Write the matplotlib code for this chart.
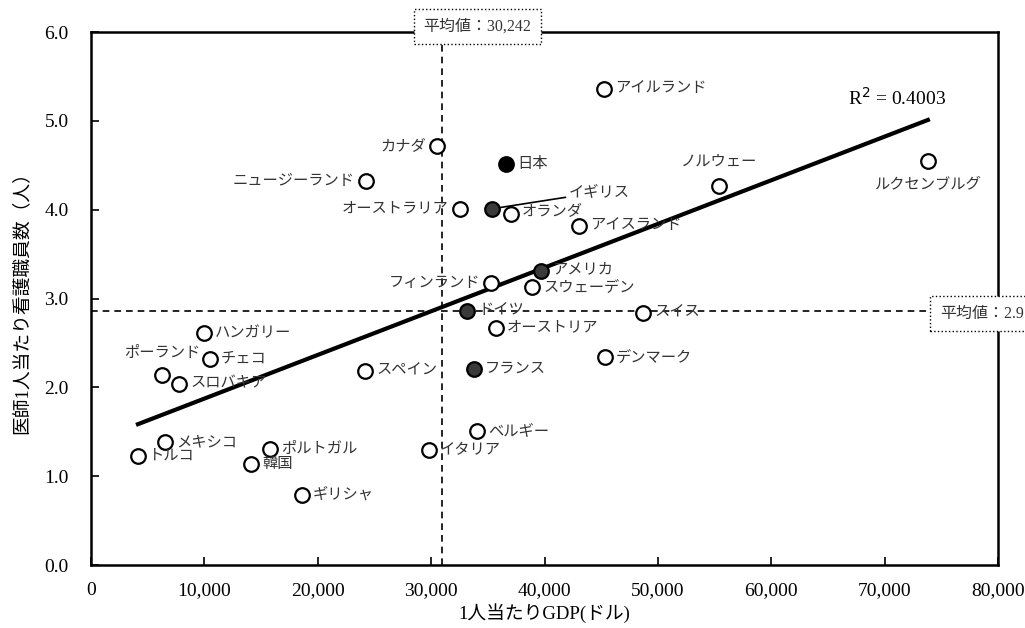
import numpy as np
import matplotlib
matplotlib.use("Agg")
import matplotlib.pyplot as plt

plt.rcParams['font.family'] = ['Liberation Serif', 'Noto Sans CJK JP', 'DejaVu Sans']

countries = ["アイルランド", "カナダ", "日本", "ニュージーランド", "オーストラリア", "イギリス",
             "オランダ", "ノルウェー", "ルクセンブルグ", "アイスランド", "アメリカ", "フィンランド",
             "スウェーデン", "ドイツ", "スイス", "オーストリア", "デンマーク", "フランス", "スペイン",
             "ベルギー", "イタリア", "ハンガリー", "チェコ", "ポーランド", "スロバキア", "メキシコ",
             "トルコ", "ポルトガル", "韓国", "ギリシャ"]
gdp = [45240, 30510, 36600, 24250, 32540, 35360,
       37040, 55380, 73810, 43030, 39680, 35270,
       38890, 33160, 48680, 35710, 45330, 33770, 24160,
       34040, 29810, 9960, 10490, 6260, 7760, 6530,
       4140, 15790, 14110, 18610]
nurses = [5.36, 4.72, 4.51, 4.32, 4.01, 4.01,
          3.95, 4.27, 4.55, 3.82, 3.31, 3.17,
          3.13, 2.86, 2.84, 2.67, 2.34, 2.21, 2.18,
          1.51, 1.29, 2.61, 2.32, 2.14, 2.04, 1.38,
          1.23, 1.31, 1.14, 0.79]
highlight = {"日本": "#000000", "イギリス": "#3a3a3a", "アメリカ": "#3a3a3a",
             "ドイツ": "#3a3a3a", "フランス": "#3a3a3a"}
mean_gdp_label = "平均値：30,242"
mean_gdp_line = 31000
mean_nurse_label = "平均値：2.91"
mean_nurse_line = 2.86
r2_label = "R$^2$ = 0.4003"

# label placement: (dx, dy, ha) in points
offsets = {"カナダ": (-8, 0, "right"), "ニュージーランド": (-8, 0, "right"),
           "オーストラリア": (-8, 0, "right"), "フィンランド": (-8, 0, "right"),
           "ノルウェー": (0, 17, "center"), "ルクセンブルグ": (0, -17, "center"),
           "ポーランド": (0, 16, "center"), "イギリス": (55, 12, "left"),
           "オランダ": (8, 2, "left"), "アメリカ": (8, 1, "left")}

fig = plt.figure(figsize=(10.25, 6.28), dpi=100)
ax = fig.add_axes([0.0888, 0.1003, 0.8849, 0.8487])

for c, x, y in zip(countries, gdp, nurses):
    fc = highlight.get(c, "white")
    ax.plot(x, y, "o", ms=10.5, mfc=fc, mec="black", mew=1.6, zorder=4)
    dx, dy, ha = offsets.get(c, (8, 0, "left"))
    if c == "イギリス":
        ax.annotate(c, (x, y), xytext=(dx, dy), textcoords="offset points",
                    ha="left", va="center", fontsize=11, color="#333333",
                    arrowprops=dict(arrowstyle="-", color="black", lw=1.2,
                                    shrinkA=0, shrinkB=5))
    else:
        ax.annotate(c, (x, y), xytext=(dx, dy), textcoords="offset points",
                    ha=ha, va="center", fontsize=11, color="#333333", zorder=5)

# regression line
slope, intercept = np.polyfit(gdp, nurses, 1)
xs = np.array([min(gdp), max(gdp)])
ax.plot(xs, slope * xs + intercept, color="black", lw=3, zorder=3)
ax.annotate(r2_label, (xs[1], slope * xs[1] + intercept), xytext=(-22, 8),
            textcoords="offset points", ha="center", va="bottom", fontsize=14)

# mean lines
ax.axvline(mean_gdp_line, color="black", ls=(0, (4, 3)), lw=1.2, zorder=2)
ax.axhline(mean_nurse_line, color="black", ls=(0, (4, 3)), lw=1.2, zorder=2)
box = dict(boxstyle="square,pad=0.6", fc="white", ec="black", ls=":", lw=1)
ax.annotate(mean_gdp_label, (mean_gdp_line, 1.0), xycoords=("data", "axes fraction"),
            xytext=(25, 4), textcoords="offset points", ha="center", va="center",
            fontsize=11.5, color="#333333", bbox=box, zorder=6, annotation_clip=False)
ax.annotate(mean_nurse_label, (1.0, mean_nurse_line), xycoords=("axes fraction", "data"),
            xytext=(-42, -2), textcoords="offset points", ha="left", va="center",
            fontsize=11.5, color="#333333", bbox=box, zorder=6, annotation_clip=False)

ax.set_xlim(0, 80000)
ax.set_ylim(0, 6)
ax.set_xticks(np.arange(0, 80001, 10000))
ax.set_xticklabels([f"{v:,}" for v in range(0, 80001, 10000)])
ax.set_yticks(np.arange(0, 6.01, 1))
ax.set_yticklabels([f"{v:.1f}" for v in np.arange(0, 6.01, 1)])
ax.tick_params(direction="in", length=6, width=1.2, labelsize=14, pad=12)
ax.tick_params(axis="y", pad=16)
for s in ax.spines.values():
    s.set_linewidth(1.8)

ax.set_xlabel("1人当たりGDP(ドル)", fontsize=13.5, labelpad=3)
ax.set_ylabel("医師1人当たり看護職員数（人）", fontsize=13.5, labelpad=10)

fig.savefig("out.png", dpi=100)
